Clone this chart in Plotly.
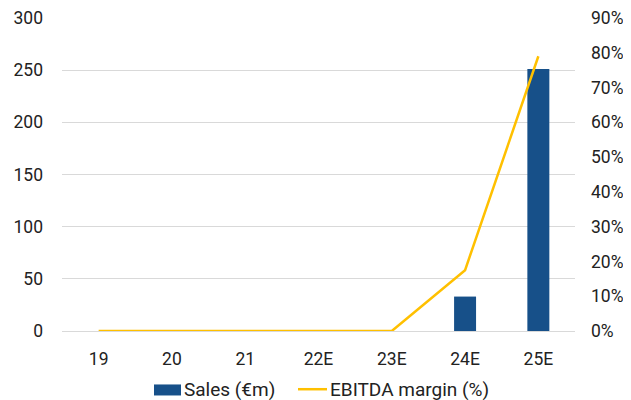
import plotly.graph_objects as go

categories = ["19", "20", "21", "22E", "23E", "24E", "25E"]
sales = [0, 0, 0, 0, 0, 33, 251]
ebitda_margin = [0, 0, 0, 0, 0, 17.5, 79]

left_ticks = [0, 50, 100, 150, 200, 250, 300]
right_ticks = [0, 10, 20, 30, 40, 50, 60, 70, 80, 90]
right_labels = [f"{v}%" for v in right_ticks]

BAR_COLOR = "#175089"
LINE_COLOR = "#FFC000"
FAMILY = "Roboto, Arial, sans-serif"
font = dict(family=FAMILY, size=17.5, color="#222222")

fig = go.Figure()
fig.add_trace(go.Bar(
    x=categories, y=sales, name="Sales (€m)",
    marker=dict(color=BAR_COLOR, line=dict(width=0)),
    width=0.3, yaxis="y", showlegend=False,
))
fig.add_trace(go.Scatter(
    x=categories, y=ebitda_margin, name="EBITDA margin (%)",
    mode="lines", line=dict(color=LINE_COLOR, width=2.5), yaxis="y2",
    showlegend=False,
))

# custom legend (paper coordinates)
LEG_Y = -0.1860
fig.add_shape(type="rect", xref="paper", yref="paper",
              x0=0.1793, x1=0.2320, y0=LEG_Y - 0.0200, y1=LEG_Y + 0.0152,
              fillcolor=BAR_COLOR, line=dict(width=0))
fig.add_shape(type="line", xref="paper", yref="paper",
              x0=0.4600, x1=0.5166, y0=LEG_Y, y1=LEG_Y,
              line=dict(color=LINE_COLOR, width=2.5))
legend_font = dict(family=FAMILY, size=19, color="#222222")
fig.add_annotation(text="Sales (€m)", xref="paper", yref="paper",
                   x=0.2340, y=LEG_Y, xanchor="left", yanchor="middle",
                   showarrow=False, font=legend_font)
fig.add_annotation(text="EBITDA margin (%)", xref="paper", yref="paper",
                   x=0.5186, y=LEG_Y, xanchor="left", yanchor="middle",
                   showarrow=False, font=legend_font)

fig.update_layout(
    width=623, height=392,
    margin=dict(l=54, r=56, t=10, b=69, autoexpand=False),
    paper_bgcolor="white", plot_bgcolor="white",
    font=font,
    showlegend=False,
    xaxis=dict(type="category", showgrid=False, showline=True, linecolor="#d9d9d9",
               ticks="", tickfont=font, ticklabelstandoff=12, automargin=False),
    yaxis=dict(range=[0, 300], tickvals=left_ticks, showgrid=True, gridcolor="#d9d9d9",
               zeroline=False, showline=False, ticks="", tickfont=font,
               ticklabelstandoff=18, automargin=False),
    yaxis2=dict(range=[0, 90], tickvals=right_ticks, ticktext=right_labels,
                overlaying="y", side="right", showgrid=False, zeroline=False,
                showline=False, ticks="", tickfont=font, ticklabelstandoff=15,
                automargin=False),
    bargap=0.7,
)

fig.write_html("out.html")
